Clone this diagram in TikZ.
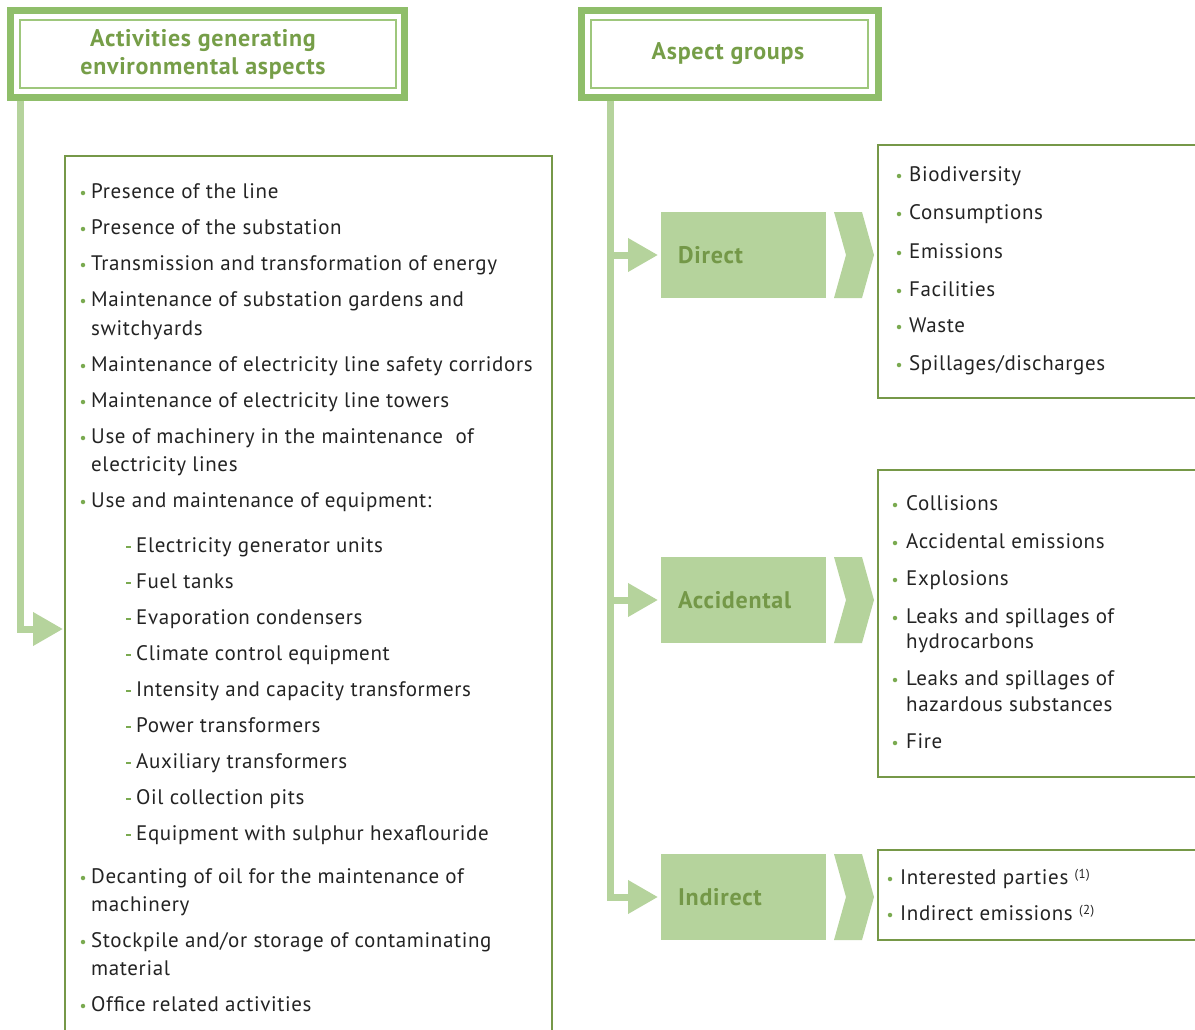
\documentclass[tikz,border=0pt]{standalone}
\usepackage{fontspec}
\setmainfont[LetterSpace=3]{PT Sans}
\usetikzlibrary{arrows.meta}

\definecolor{hdrgreen}{RGB}{143,190,106}
\definecolor{hdrline}{RGB}{158,199,124}
\definecolor{hdrtext}{RGB}{118,158,72}
\definecolor{pale}{RGB}{181,211,156}
\definecolor{boxline}{RGB}{118,152,72}
\definecolor{boxtext}{RGB}{116,152,72}
\definecolor{dot}{RGB}{122,170,80}
\definecolor{ink}{RGB}{35,35,35}

\tikzset{
  hdr/.style={draw=hdrgreen, line width=7pt, outer sep=0pt, inner sep=0pt},
  hdrinner/.style={draw=hdrline, line width=2pt},
  hdrlabel/.style={font=\fontsize{24}{28}\selectfont\bfseries, text=hdrtext, align=center, inner sep=0pt},
  listbox/.style={draw=boxline, line width=2pt, outer sep=0pt, inner sep=0pt, anchor=north west},
  group/.style={fill=pale, minimum width=165pt, minimum height=86pt, inner sep=0pt, outer sep=0pt, anchor=north west},
  grouplabel/.style={font=\fontsize{24}{28}\selectfont\bfseries, text=boxtext, anchor=west, inner sep=0pt},
  conn/.style={draw=pale, line width=7pt, line cap=butt, line join=miter},
  tip/.style={-{Triangle[length=30pt 0 0, width=32pt 0 0]}},
  itemtext/.style={anchor=base west, inner sep=0pt, font=\fontsize{21}{24}\selectfont, text=ink},
  bul/.style={circle, fill=dot, inner sep=0pt, minimum size=4.5pt},
  dashmark/.style={fill=dot, inner sep=0pt, minimum width=5pt, minimum height=2pt},
}

% bullet item: name, bullet x, text x, visual line y, text
\newcommand\bitem[5]{%
  \node[bul] (#1b) at (#2,#4+3) {};
  \node[itemtext] (#1) at (#3,#4+8) {#5};}
% continuation line of a wrapped item
\newcommand\citem[4]{\node[itemtext] (#1) at (#2,#3+8) {#4};}
% dashed sub-item
\newcommand\ditem[3]{%
  \node[dashmark] (#1d) at (128,#2+3) {};
  \node[itemtext] (#1) at (136,#2+8) {#3};}

\begin{document}
\begin{tikzpicture}[x=1pt,y=-1pt]
\useasboundingbox (0,0) rectangle (1195,1029);
\clip (0,0) rectangle (1195,1029);

% ---- headers ----
\node[hdr, minimum width=394pt, minimum height=87pt] (hdrA) at (207.5,54) {};
\draw[hdrinner] ([shift={(9.5,9.5)}]hdrA.north west) rectangle ([shift={(-8.5,-9.5)}]hdrA.south east);
\node[hdrlabel] (hdrAt) at (203,54) {Activities generating\\environmental aspects};

\node[hdr, minimum width=297pt, minimum height=87pt] (hdrB) at (730,54) {};
\draw[hdrinner] ([shift={(9.5,9.5)}]hdrB.north west) rectangle ([shift={(-10.5,-9.5)}]hdrB.south east);
\node[hdrlabel] (hdrBt) at (728,54) {Aspect groups};

% ---- activities box ----
\node[listbox, minimum width=487pt, minimum height=920pt] (acts) at (65,156) {};

\bitem{a1}{83}{91}{190}{Presence of the line}
\bitem{a2}{83}{91}{226}{Presence of the substation}
\bitem{a3}{83}{91}{262}{Transmission and transformation of energy}
\bitem{a4}{83}{91}{298}{Maintenance of substation gardens and}
\citem{a4c}{91}{327}{switchyards}
\bitem{a5}{83}{91}{363}{Maintenance of electricity line safety corridors}
\bitem{a6}{83}{91}{399}{Maintenance of electricity line towers}
\bitem{a7}{83}{91}{435}{Use of machinery in the maintenance\ \ of}
\citem{a7c}{91}{463}{electricity lines}
\bitem{a8}{83}{91}{499}{Use and maintenance of equipment:}
\ditem{s1}{544}{Electricity generator units}
\ditem{s2}{580}{Fuel tanks}
\ditem{s3}{616}{Evaporation condensers}
\ditem{s4}{652}{Climate control equipment}
\ditem{s5}{688}{Intensity and capacity transformers}
\ditem{s6}{724}{Power transformers}
\ditem{s7}{760}{Auxiliary transformers}
\ditem{s8}{796}{Oil collection pits}
\ditem{s9}{832}{Equipment with sulphur hexaflouride}
\bitem{a9}{83}{91}{875}{Decanting of oil for the maintenance of}
\citem{a9c}{91}{903}{machinery}
\bitem{a10}{83}{91}{939}{Stockpile and/or storage of contaminating}
\citem{a10c}{91}{967}{material}
\bitem{a11}{83}{91}{1003}{Office related activities}

% ---- aspect groups ----
\node[group] (gDirect) at (661,212) {};
\node[group] (gAccid) at (661,557) {};
\node[group] (gIndir) at (661,854) {};
\node[grouplabel] (gDirectt) at ([xshift=17pt]gDirect.west) {Direct};
\node[grouplabel] (gAccidt) at ([xshift=17pt]gAccid.west) {Accidental};
\node[grouplabel] (gIndirt) at ([xshift=17pt]gIndir.west) {Indirect};

% chevrons after each group
\foreach \g in {gDirect,gAccid,gIndir}{
  \fill[pale] ([xshift=8pt]\g.north east) -- ++(28,0) -- ++(12,43) -- ++(-12,43)
    -- ++(-28,0) -- ++(12,-43) -- cycle;
}

% ---- aspect lists ----
\node[listbox, minimum width=400pt, minimum height=253pt] (lDirect) at (878,145) {};
\node[listbox, minimum width=400pt, minimum height=307pt] (lAccid) at (878,470) {};
\node[listbox, minimum width=400pt, minimum height=90pt] (lIndir) at (878,850) {};

\bitem{d1}{899}{909}{173}{Biodiversity}
\bitem{d2}{899}{909}{211}{Consumptions}
\bitem{d3}{899}{909}{250}{Emissions}
\bitem{d4}{899}{909}{288}{Facilities}
\bitem{d5}{899}{909}{324}{Waste}
\bitem{d6}{899}{909}{362}{Spillages/discharges}

\bitem{c1}{895}{906}{502}{Collisions}
\bitem{c2}{895}{906}{540}{Accidental emissions}
\bitem{c3}{895}{906}{577}{Explosions}
\bitem{c4}{895}{906}{615}{Leaks and spillages of}
\citem{c4c}{906}{640}{hydrocarbons}
\bitem{c5}{895}{906}{677}{Leaks and spillages of}
\citem{c5c}{906}{703}{hazardous substances}
\bitem{c6}{895}{906}{740}{Fire}

\bitem{i1}{890}{900}{876}{Interested parties \raisebox{6pt}{\fontsize{13}{13}\selectfont(1)}}
\bitem{i2}{890}{900}{912}{Indirect emissions \raisebox{6pt}{\fontsize{13}{13}\selectfont(2)}}

% ---- connectors ----
\coordinate (lspine) at (20,101);
\coordinate (actin) at (63,629);
\draw[conn, tip] (lspine) |- (actin);

\coordinate (rspine) at (610,101);
\draw[conn, tip] (rspine) |- ([xshift=-3pt]gIndir.west);
\draw[conn, tip] (rspine |- gDirect.west) -- ([xshift=-3pt]gDirect.west);
\draw[conn, tip] (rspine |- gAccid.west) -- ([xshift=-3pt]gAccid.west);
\end{tikzpicture}
\end{document}
